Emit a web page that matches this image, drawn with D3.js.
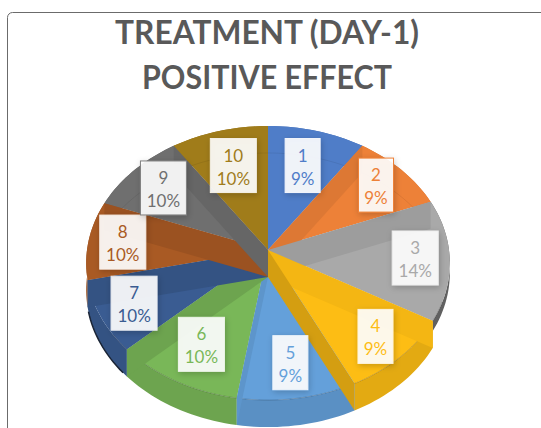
<!DOCTYPE html>
<html>
<head>
<meta charset="utf-8">
<script src="https://cdnjs.cloudflare.com/ajax/libs/d3/7.8.5/d3.min.js"></script>
<style>
html, body { margin: 0; padding: 0; background: #fff; }
svg { display: block; }
text { font-family: Lato, "Open Sans", sans-serif; }
</style>
</head>
<body>
<div id="grafico"></div>
<script>
// values
var sliceNames = ["1", "2", "3", "4", "5", "6", "7", "8", "9", "10"];
var sliceValues = [9.5, 9.5, 14.3, 9.5, 9.7, 10.5, 8.5, 9.3, 9.7, 9.5];
var sliceLabels = ["9%", "9%", "14%", "9%", "9%", "10%", "10%", "10%", "10%", "10%"];
var sliceColors = ["#4f7dc8", "#ed8138", "#a9a9a9", "#fdbd14", "#64a0da", "#79b758", "#3a5c92", "#a95a24", "#6f6f6f", "#a07c1a"];
var titleLines = ["TREATMENT (DAY-1)", "POSITIVE EFFECT"];

// the wall of a slice edge shows through: which slice colours the band on each boundary
var bandOwner = [null, 1, 2, 3, 3, 4, 5, 6, 7, 8];
var bandDarken = [0, 0.2, 0.2, 0.1, 0.5, 0.2, 0.3, 0.3, 0.25, 0.25];
var labelReach = [0.71, 0.81, 0.81, 0.81, 0.76, 0.72, 0.8, 0.81, 0.78, 0.71];
var borderColors = ["#f2f4fa", "#ed8138", "#eeeeee", "#fdf3dc", "#eef4fb", "#eef5ea", "#e9ebf0", "#f8efe9", "#7f7f7f", "#f3efe4"];
var titleWidths = [304, 250];

var width = 541, height = 428;
var center = {x: 268, y: 250};
var radiusX = 181, radiusY = 135.8, perspective = 0.095, depth = 27;

var svg = d3.select("#grafico").append("svg")
    .attr("width", width)
    .attr("height", height);

var defs = svg.append("defs");
var shadow = defs.append("filter").attr("id", "boxShadow")
    .attr("x", "-30%").attr("y", "-30%").attr("width", "160%").attr("height", "160%");
shadow.append("feDropShadow")
    .attr("dx", 1).attr("dy", 2).attr("stdDeviation", 3)
    .attr("flood-color", "#000").attr("flood-opacity", 0.22);

// tilted plane -> screen, the back of the pie is further away
function project(angle, r, drop) {
    var s = Math.sin(angle), c = Math.cos(angle);
    var k = r / (1 + perspective * c);
    return [center.x + radiusX * s * k, center.y - radiusY * c * k + (drop || 0)];
}

function rim(a0, a1, drop) {
    var n = Math.max(2, Math.ceil((a1 - a0) / 0.03));
    return d3.range(n + 1).map(function(i) {
        return project(a0 + (a1 - a0) * i / n, 1, drop);
    });
}

var line = d3.line();
function closedPath(points) { return line(points) + "Z"; }

var arcs = d3.pie().sort(null)(sliceValues);

// outer wall, the grey slice only shows a sliver of it
var walls = svg.append("g").attr("class", "walls");
walls.selectAll("path")
    .data(arcs)
    .enter().append("path")
    .attr("d", function(d, i) {
        var drop = i === 2 ? 10 : depth;
        return closedPath(rim(d.startAngle, d.endAngle, 0).concat(rim(d.startAngle, d.endAngle, drop).reverse()));
    })
    .attr("fill", function(d, i) { return d3.color(sliceColors[i]).darker(i === 2 ? 1.6 : 0.3); });

// top faces
var faces = svg.append("g").attr("class", "faces");
faces.selectAll("path")
    .data(arcs)
    .enter().append("path")
    .attr("d", function(d) {
        return closedPath([[center.x, center.y]].concat(rim(d.startAngle, d.endAngle, 0)));
    })
    .attr("fill", function(d, i) { return sliceColors[i]; });

// far rim seen through the top
svg.append("path")
    .attr("d", line(rim(-Math.PI * 0.36, Math.PI * 0.36, depth)))
    .attr("fill", "none")
    .attr("stroke", "#000")
    .attr("stroke-opacity", 0.07);

// near rim on the front of the pie
svg.append("path")
    .attr("d", line(rim(Math.PI * 0.62, Math.PI * 1.3, 0)))
    .attr("fill", "none")
    .attr("stroke", "#000")
    .attr("stroke-opacity", 0.18);

// radial walls
var bands = svg.append("g").attr("class", "bands");
bands.selectAll("path")
    .data(arcs.filter(function(d, i) { return bandOwner[i] !== null; }))
    .enter().append("path")
    .attr("d", function(d) {
        var a = d.startAngle;
        return closedPath([[center.x, center.y], project(a, 1, 0), project(a, 1, depth), [center.x, center.y + depth]]);
    })
    .attr("fill", function(d) {
        return d3.color(sliceColors[bandOwner[d.index]]).darker(bandDarken[d.index]);
    });

// thin shadow under the silhouette on the dark side
svg.append("path")
    .attr("d", line(rim(Math.PI * 1.27, Math.PI * 1.42, depth)))
    .attr("fill", "none")
    .attr("stroke", "#1a2435")
    .attr("stroke-width", 1.5);

// data labels
var labels = svg.append("g").attr("class", "labels")
    .selectAll("g")
    .data(arcs)
    .enter().append("g")
    .attr("transform", function(d, i) {
        var p = project((d.startAngle + d.endAngle) / 2, labelReach[i], 0);
        return "translate(" + p[0] + "," + p[1] + ")";
    });

labels.append("rect")
    .attr("x", function(d, i) { return -(sliceLabels[i].length > 2 ? 46 : 35) / 2; })
    .attr("y", -27)
    .attr("width", function(d, i) { return sliceLabels[i].length > 2 ? 46 : 35; })
    .attr("height", 54)
    .attr("fill", "#fff")
    .attr("fill-opacity", 0.9)
    .attr("stroke", function(d, i) { return borderColors[i]; })
    .style("filter", "url(#boxShadow)");

labels.append("text")
    .attr("text-anchor", "middle")
    .attr("y", -4)
    .attr("font-size", "17px")
    .attr("fill", function(d, i) { return sliceColors[i]; })
    .text(function(d, i) { return sliceNames[i]; });

labels.append("text")
    .attr("text-anchor", "middle")
    .attr("y", 19)
    .attr("font-size", "17px")
    .attr("fill", function(d, i) { return sliceColors[i]; })
    .text(function(d, i) { return sliceLabels[i]; });

// frame and title
svg.append("rect")
    .attr("x", 7.5)
    .attr("y", 12.5)
    .attr("width", 640)
    .attr("height", 520)
    .attr("rx", 5)
    .attr("fill", "none")
    .attr("stroke", "#6b6b6b");

svg.append("g").attr("class", "title")
    .selectAll("text")
    .data(titleLines)
    .enter().append("text")
    .attr("x", 267)
    .attr("y", function(d, i) { return 44 + i * 45; })
    .attr("text-anchor", "middle")
    .attr("font-size", "32px")
    .attr("font-weight", "bold")
    .attr("fill", "#595959")
    .attr("textLength", function(d, i) { return titleWidths[i]; })
    .attr("lengthAdjust", "spacingAndGlyphs")
    .text(function(d) { return d; });
</script>
</body>
</html>
